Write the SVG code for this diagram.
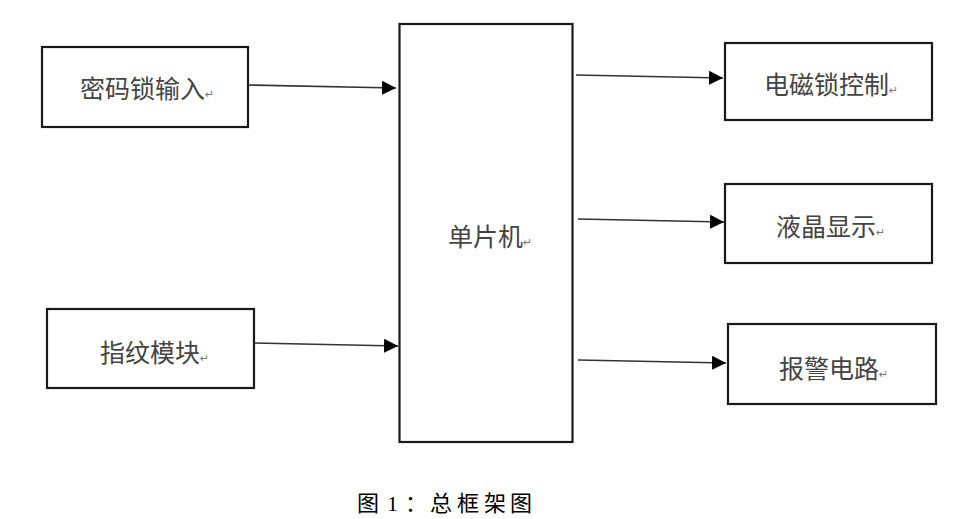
<svg xmlns="http://www.w3.org/2000/svg" width="961" height="519" viewBox="0 0 961 519">
<defs>
<style>
.box{fill:#fff;stroke:#1a1a1a;stroke-width:2.2}
.lbl{font-family:"Noto Sans CJK SC","Liberation Sans",sans-serif;font-size:25px;fill:#444}
.ret{font-family:"DejaVu Sans",sans-serif;font-size:11px;fill:#777}
.conn{stroke:#333;stroke-width:1.6;fill:none;marker-end:url(#ah)}
.cap{font-family:"Liberation Serif","Noto Sans CJK SC",serif;font-size:22px;fill:#000}
</style>
<marker id="ah" viewBox="0 0 10 10" refX="10" refY="5" markerWidth="14" markerHeight="14" markerUnits="userSpaceOnUse" orient="auto">
<path d="M0,0 L10,5 L0,10 Z" fill="#000"/>
</marker>
</defs>
<rect width="961" height="519" fill="#fff"/>
<g id="node-mcu">
<rect class="box" x="399.5" y="24" width="173" height="418"/>
<text class="lbl" x="448" y="246">单片机<tspan class="ret" dy="0">↵</tspan></text>
</g>
<g id="node-password">
<rect class="box" x="42" y="47" width="206" height="80"/>
<text class="lbl" x="80" y="98">密码锁输入<tspan class="ret">↵</tspan></text>
</g>
<g id="node-fingerprint">
<rect class="box" x="47" y="309" width="207" height="79"/>
<text class="lbl" x="100" y="362">指纹模块<tspan class="ret">↵</tspan></text>
</g>
<g id="node-lock">
<rect class="box" x="725" y="43" width="207" height="77"/>
<text class="lbl" x="764" y="94">电磁锁控制<tspan class="ret">↵</tspan></text>
</g>
<g id="node-lcd">
<rect class="box" x="725" y="184" width="207" height="79"/>
<text class="lbl" x="776" y="236">液晶显示<tspan class="ret">↵</tspan></text>
</g>
<g id="node-alarm">
<rect class="box" x="728" y="324" width="208" height="80"/>
<text class="lbl" x="779" y="378">报警电路<tspan class="ret">↵</tspan></text>
</g>
<g id="connectors">
<line class="conn" x1="248" y1="85" x2="396" y2="88"/>
<line class="conn" x1="254" y1="343" x2="398" y2="346"/>
<line class="conn" x1="576" y1="75" x2="723" y2="78"/>
<line class="conn" x1="578" y1="219" x2="724" y2="222"/>
<line class="conn" x1="578" y1="360" x2="726" y2="363"/>
</g>
<text class="cap" x="357 379 387 405 430 457 484 510" y="511">图 1：总框架图</text>
</svg>
